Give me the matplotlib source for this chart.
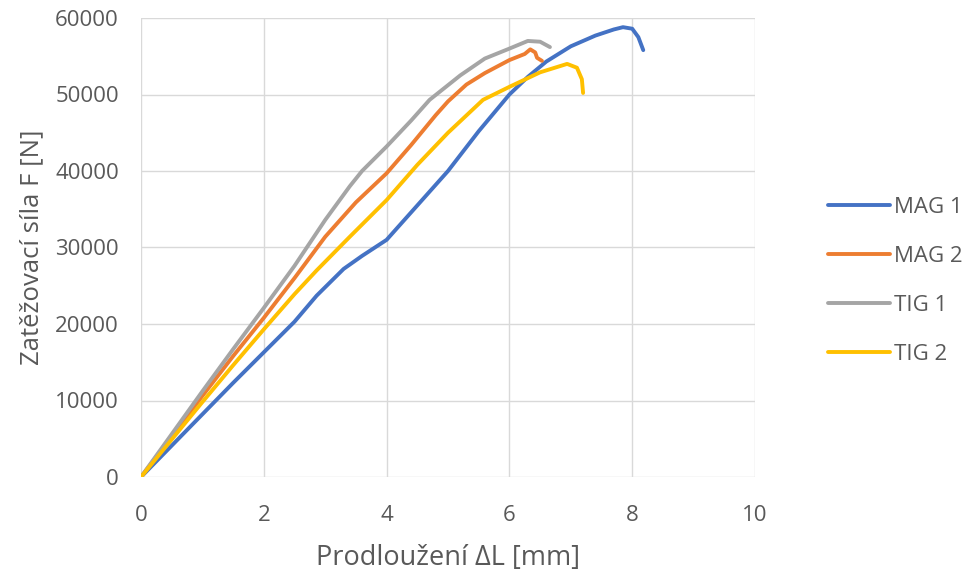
import numpy as np
import matplotlib.pyplot as plt

plt.rcParams['font.family'] = ['Open Sans', 'DejaVu Sans']

# Values (elongation mm, force N)
mag1_x = [0, 0.5, 1.0, 1.5, 2.0, 2.5, 2.86, 3.3, 3.6, 4.0, 4.4, 4.8, 5.0, 5.5, 6.0, 6.3, 6.6, 7.0, 7.4, 7.7, 7.85, 8.0, 8.1, 8.18]
mag1_y = [0, 4100, 8200, 12300, 16300, 20300, 23700, 27200, 28900, 31000, 34600, 38200, 40000, 45200, 50000, 52300, 54300, 56300, 57700, 58500, 58800, 58600, 57500, 55800]

mag2_x = [0, 0.5, 1.0, 1.5, 2.0, 2.5, 3.0, 3.5, 4.0, 4.4, 4.8, 5.0, 5.3, 5.6, 6.0, 6.25, 6.34, 6.42, 6.45, 6.53]
mag2_y = [0, 5300, 10600, 15800, 20800, 26000, 31400, 35900, 39700, 43400, 47300, 49100, 51300, 52800, 54500, 55300, 55900, 55500, 54800, 54400]

tig1_x = [0, 0.5, 1.0, 1.5, 2.0, 2.5, 3.0, 3.4, 3.6, 4.0, 4.4, 4.7, 5.2, 5.6, 6.0, 6.3, 6.5, 6.66]
tig1_y = [0, 5600, 11200, 16700, 22100, 27600, 33600, 38000, 40000, 43200, 46600, 49300, 52500, 54700, 56000, 57000, 56900, 56200]

tig2_x = [0, 0.5, 1.0, 1.5, 2.0, 2.5, 2.86, 3.4, 4.0, 4.5, 5.0, 5.57, 6.0, 6.5, 6.94, 7.1, 7.18, 7.2]
tig2_y = [0, 4900, 9800, 14600, 19300, 23900, 27000, 31400, 36200, 40800, 45000, 49300, 51000, 52900, 54000, 53500, 52000, 50200]

labels = ['MAG 1', 'MAG 2', 'TIG 1', 'TIG 2']
colors = ['#4472C4', '#ED7D31', '#A5A5A5', '#FFC000']
text_col = '#595959'

fig = plt.figure(figsize=(9.68, 5.74), dpi=100)
ax = fig.add_axes([141/968, 1 - 477/574, (755-141)/968, (477-18)/574])

series = [(mag1_x, mag1_y), (mag2_x, mag2_y), (tig1_x, tig1_y), (tig2_x, tig2_y)]
for (xs, ys), lab, col in zip(series, labels, colors):
    ax.plot(xs, ys, color=col, lw=2.8, label=lab, solid_capstyle='round')

ax.set_xlim(0, 10)
ax.set_ylim(0, 60000)
ax.set_xticks(np.arange(0, 11, 2))
ax.set_yticks(np.arange(0, 60001, 10000))
ax.grid(True, color='#D9D9D9', lw=1)
ax.set_axisbelow(True)
for s in ax.spines.values():
    s.set_visible(False)
ax.tick_params(length=0, labelsize=16, colors=text_col)
ax.tick_params(axis='x', pad=20)
ax.tick_params(axis='y', pad=16)

ax.set_xlabel('Prodloužení ΔL [mm]', fontsize=19.5, color=text_col, labelpad=13)
ax.set_ylabel('Zatěžovací síla F [N]', fontsize=18.5, color=text_col, labelpad=8)

fig.legend(loc='center left', bbox_to_anchor=(828/968, 1 - 281/574), frameon=False,
           fontsize=16, labelcolor=text_col, handlelength=2.8, handletextpad=0.15,
           labelspacing=1.26, borderpad=0, borderaxespad=0)

plt.savefig('out.png')
